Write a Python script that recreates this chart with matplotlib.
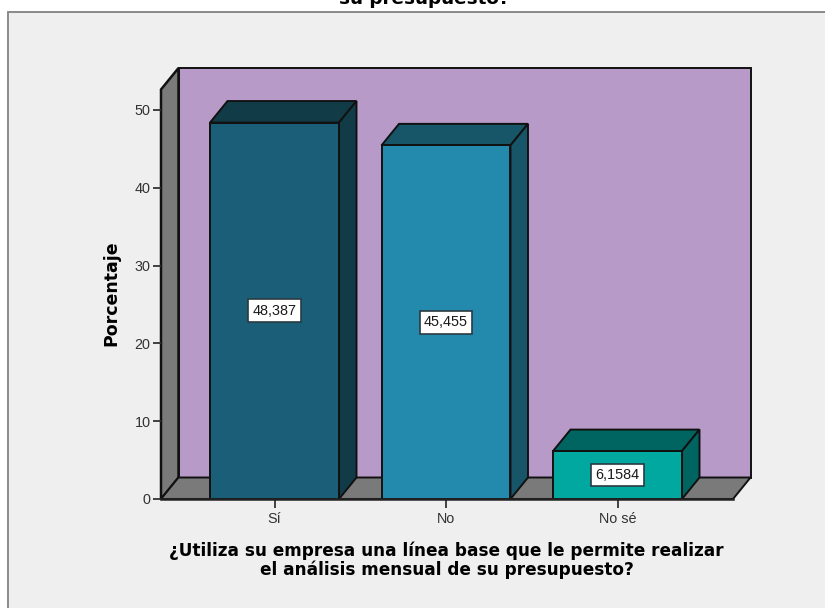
import matplotlib
matplotlib.use("Agg")
import matplotlib.pyplot as plt
from matplotlib.patches import Polygon, Rectangle

categories = ["Sí", "No", "No sé"]
values = [48.387, 45.455, 6.1584]
value_labels = ["48,387", "45,455", "6,1584"]
y_ticks = [0, 10, 20, 30, 40, 50]

front_colors = ["#1B5E78", "#2389AD", "#00A8A0"]
shade_colors = ["#123B48", "#175569", "#006560"]
WALL = "#B79AC8"
SIDE = "#7A7A7A"
PANEL = "#EFEFEF"
INK = "#111111"

W, H = 825, 608
X0, X1 = 161, 733      # front plane of the plot, pixels
Y0, YTOP = 499, 68
PX_PER_UNIT = 7.78
CAT_STEP = 171.5
CAT0 = 274.5
BAR_HALF = 0.376
DX = 17.5 / CAT_STEP   # depth offset in data units
DY = 21.5 / PX_PER_UNIT

fig = plt.figure(figsize=(W / 100, H / 100), dpi=100, facecolor="white")
fig.add_artist(Rectangle((8 / W, 0 - 0.01), 1.0, 1 - 12 / H + 0.01, transform=fig.transFigure,
                         facecolor=PANEL, edgecolor="#8A8A8A", linewidth=1.4, zorder=-1))

ax = fig.add_axes([X0 / W, 1 - Y0 / H, (X1 - X0) / W, (Y0 - YTOP) / H])
ax.patch.set_visible(False)
xmin, xmax = (X0 - CAT0) / CAT_STEP, (X1 - CAT0) / CAT_STEP
ymax = (Y0 - YTOP) / PX_PER_UNIT
ax.set_xlim(xmin, xmax)
ax.set_ylim(0, ymax)
for s in ax.spines.values():
    s.set_visible(False)


def face(pts, color, lw=1.4, z=1):
    ax.add_patch(Polygon(pts, closed=True, facecolor=color, edgecolor=INK, linewidth=lw,
                         joinstyle="miter", clip_on=False, zorder=z))


# box walls and floor
face([(xmin + DX, DY), (xmax + DX, DY), (xmax + DX, ymax), (xmin + DX, ymax)], WALL)
face([(xmin, 0), (xmin + DX, DY), (xmin + DX, ymax), (xmin, ymax - DY)], SIDE, lw=1.8)
face([(xmin, 0), (xmax, 0), (xmax + DX, DY), (xmin + DX, DY)], SIDE)

# 3-D bars
for i, v in enumerate(values):
    l, r = i - BAR_HALF, i + BAR_HALF
    z = 3 + i
    face([(l, v), (r, v), (r + DX, v + DY), (l + DX, v + DY)], shade_colors[i], z=z)
    face([(r, 0), (r + DX, DY), (r + DX, v + DY), (r, v)], shade_colors[i], z=z)
    face([(l, 0), (r, 0), (r, v), (l, v)], front_colors[i], z=z)
    ax.text(i, v / 2, value_labels[i], ha="center", va="center", fontsize=10.4,
            family="Liberation Sans", color="#1A1A1A", zorder=10,
            bbox=dict(boxstyle="square,pad=0.3", facecolor="white", edgecolor="#2A3A40", linewidth=1.2))

ax.set_xticks(range(len(categories)), categories)
ax.set_yticks(y_ticks)
ax.tick_params(axis="both", length=8.5 * 0.72, width=1.3, color="#333333", labelcolor="#333333",
               labelsize=10.4, pad=1.5)
ax.tick_params(axis="x", pad=3.5)
for lab in ax.get_xticklabels() + ax.get_yticklabels():
    lab.set_family("Liberation Sans")
ax.plot([xmin, xmax], [0, 0], color="#222222", lw=1.8, clip_on=False, zorder=9)

fig.text(424 / W, 1 - 4 / H, "su presupuesto?", ha="center", va="baseline",
         fontsize=13.2, fontweight="bold", color="black")
fig.text(111 / W, 1 - 293 / H, "Porcentaje", rotation=90, ha="center", va="center",
         fontsize=12.5, fontweight="bold", color="black")
fig.text(446.5 / W, 1 - 560 / H,
         "¿Utiliza su empresa una línea base que le permite realizar\nel análisis mensual de su presupuesto?",
         ha="center", va="center", fontsize=12.2, fontweight="bold", color="black",
         linespacing=1.05, multialignment="center")

fig.savefig("out.png", dpi=100)
